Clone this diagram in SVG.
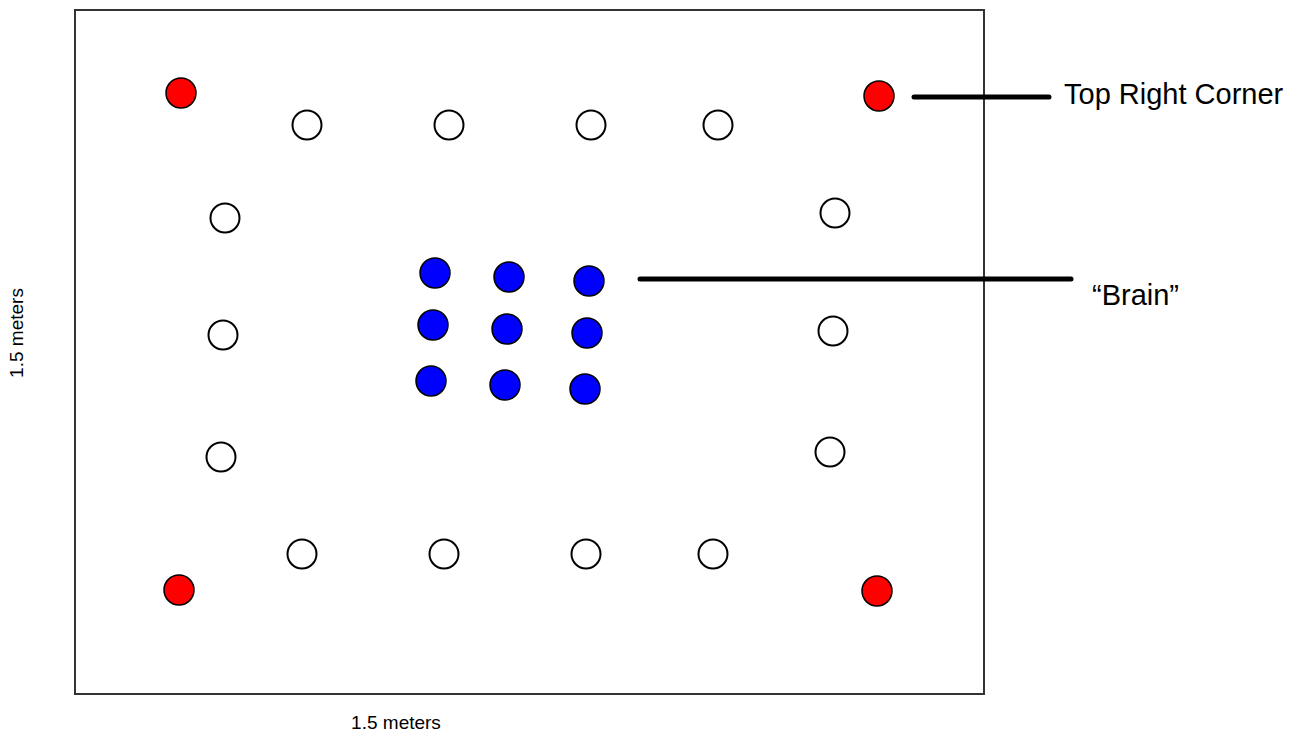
<svg xmlns="http://www.w3.org/2000/svg" width="1301" height="736" viewBox="0 0 1301 736">
<style>
.frame{fill:#fff;stroke:#333;stroke-width:2}
.w{fill:#fff;stroke:#000;stroke-width:2}
.r{fill:#f00;stroke:#000;stroke-width:1.5}
.b{fill:#00f;stroke:#000;stroke-width:1.5}
.lead{stroke:#000;stroke-width:5;stroke-linecap:round;fill:none}
.lbl{font-family:"Liberation Sans",Arial,sans-serif;fill:#000}
</style>
<rect width="1301" height="736" fill="#fff"/>
<rect id="frame" class="frame" x="75" y="10" width="909" height="684"/>
<g id="connectors">
<line class="lead" x1="914" y1="97" x2="1049" y2="97"/>
<line class="lead" x1="640" y1="279" x2="1071" y2="279"/>
</g>
<g id="corner-tl"><circle class="r" cx="181" cy="93" r="15"/></g>
<g id="corner-tr"><circle class="r" cx="879" cy="96" r="15"/></g>
<g id="corner-bl"><circle class="r" cx="179" cy="590" r="15"/></g>
<g id="corner-br"><circle class="r" cx="877" cy="591" r="15"/></g>
<g id="top-1"><circle class="w" cx="307" cy="125" r="14.5"/></g>
<g id="top-2"><circle class="w" cx="449" cy="125" r="14.5"/></g>
<g id="top-3"><circle class="w" cx="591" cy="125" r="14.5"/></g>
<g id="top-4"><circle class="w" cx="718" cy="125" r="14.5"/></g>
<g id="left-1"><circle class="w" cx="225" cy="218" r="14.5"/></g>
<g id="left-2"><circle class="w" cx="223" cy="335" r="14.5"/></g>
<g id="left-3"><circle class="w" cx="221" cy="457" r="14.5"/></g>
<g id="right-1"><circle class="w" cx="835" cy="213" r="14.5"/></g>
<g id="right-2"><circle class="w" cx="833" cy="331" r="14.5"/></g>
<g id="right-3"><circle class="w" cx="830" cy="452" r="14.5"/></g>
<g id="bottom-1"><circle class="w" cx="302" cy="554" r="14.5"/></g>
<g id="bottom-2"><circle class="w" cx="444" cy="554" r="14.5"/></g>
<g id="bottom-3"><circle class="w" cx="586" cy="554" r="14.5"/></g>
<g id="bottom-4"><circle class="w" cx="713" cy="554" r="14.5"/></g>
<g id="brain">
<circle class="b" cx="435" cy="273" r="15"/>
<circle class="b" cx="509" cy="277" r="15"/>
<circle class="b" cx="589" cy="281" r="15"/>
<circle class="b" cx="433" cy="325" r="15"/>
<circle class="b" cx="507" cy="329" r="15"/>
<circle class="b" cx="587" cy="333" r="15"/>
<circle class="b" cx="431" cy="381" r="15"/>
<circle class="b" cx="505" cy="385" r="15"/>
<circle class="b" cx="585" cy="389" r="15"/>
</g>
<text class="lbl" x="1064" y="104" font-size="29">Top Right Corner</text>
<text class="lbl" x="1092" y="305" font-size="29">“Brain”</text>
<text class="lbl" x="396" y="729" font-size="19" text-anchor="middle">1.5 meters</text>
<text class="lbl" transform="translate(23,333) rotate(-90)" font-size="19" text-anchor="middle">1.5 meters</text>
</svg>
